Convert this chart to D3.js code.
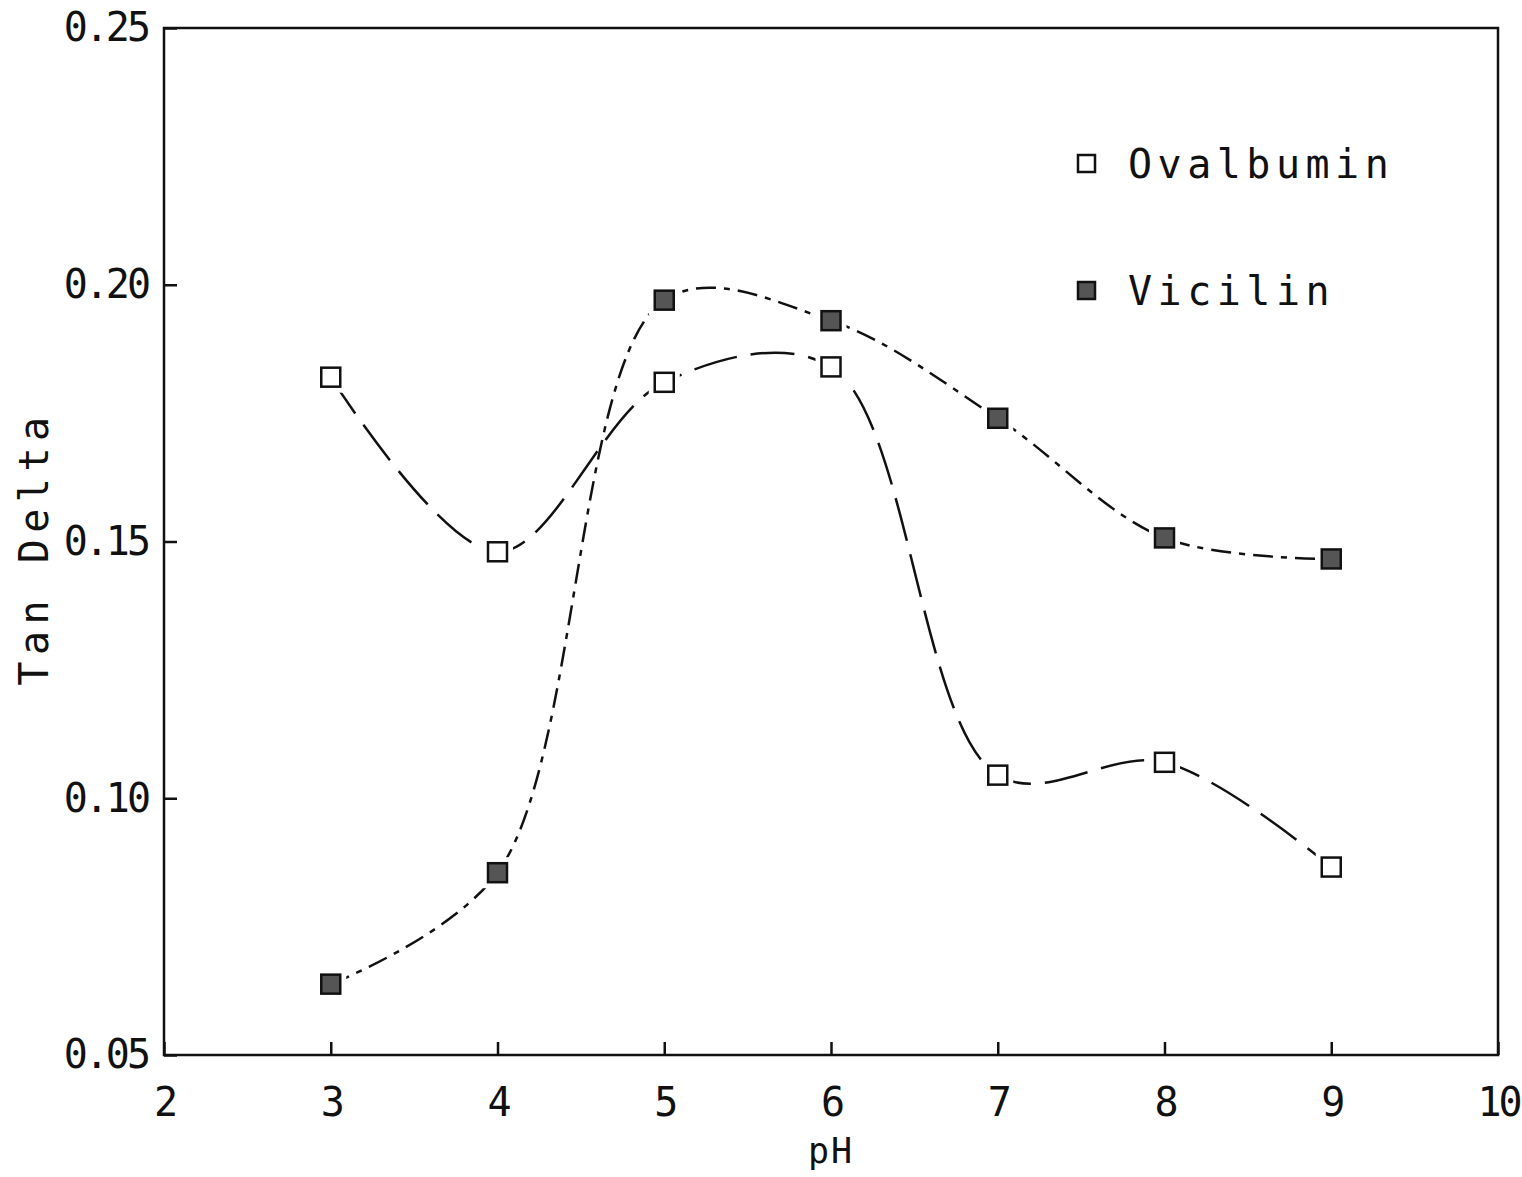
<!DOCTYPE html>
<html>
<head>
<meta charset="utf-8">
<script src="https://cdn.jsdelivr.net/npm/d3@7"></script>
<style>
  body { margin: 0; background: #fff; overflow: hidden; }
  svg { display: block; }
  text { font-family: "DejaVu Sans Mono", monospace; fill: #111; }
</style>
</head>
<body>
<div id="chart"></div>
<script>
var pH = [3, 4, 5, 6, 7, 8, 9];
var ovalbumin = [0.182, 0.148, 0.181, 0.184, 0.1045, 0.107, 0.0866];
var vicilin = [0.0638, 0.0855, 0.197, 0.193, 0.174, 0.1507, 0.1466];
var xTicks = [2, 3, 4, 5, 6, 7, 8, 9, 10];
var yTicks = [0.05, 0.10, 0.15, 0.20, 0.25];

var margin = { top: 28, right: 24, bottom: 122, left: 164 },
    width = 1522,
    height = 1177;
var innerWidth = width - margin.left - margin.right,
    innerHeight = height - margin.top - margin.bottom;

var svg = d3.select("#chart").append("svg")
    .attr("width", width)
    .attr("height", height);

var g = svg.append("g")
    .attr("transform", "translate(" + margin.left + "," + margin.top + ")");

var x = d3.scaleLinear().domain([2, 10]).range([0, innerWidth]);
var y = d3.scaleLinear().domain([0.05, 0.25]).range([innerHeight, 0]);

// frame
g.append("rect")
    .attr("width", innerWidth)
    .attr("height", innerHeight)
    .attr("fill", "none")
    .attr("stroke", "#111")
    .attr("stroke-width", 2.5);

// inward ticks
var xAxis = d3.axisBottom(x).tickValues(xTicks).tickSize(-13).tickPadding(33)
    .tickFormat(d3.format("d"));
var yAxis = d3.axisLeft(y).tickValues(yTicks).tickSize(-13).tickPadding(16)
    .tickFormat(d3.format(".2f"));

var gx = g.append("g").attr("transform", "translate(0," + innerHeight + ")").call(xAxis);
var gy = g.append("g").call(yAxis);
[gx, gy].forEach(function (a) {
    a.select(".domain").remove();
    a.selectAll("line").attr("stroke", "#111").attr("stroke-width", 2.5);
    a.selectAll("text")
        .style("font-family", "'DejaVu Sans Mono', monospace")
        .style("font-size", "40px")
        .style("letter-spacing", "-3px")
        .attr("fill", "#111");
});
gx.selectAll("text").attr("dy", "0.71em");

// axis titles
svg.append("text")
    .attr("x", 831).attr("y", 1163)
    .attr("text-anchor", "middle")
    .style("font-size", "35px")
    .style("letter-spacing", "2px")
    .text("pH");

svg.append("text")
    .attr("transform", "translate(48,548) rotate(-90)")
    .attr("text-anchor", "middle")
    .style("font-size", "40px")
    .style("letter-spacing", "6.5px")
    .text("Tan Delta");

var line = d3.line()
    .x(function (d, i) { return x(pH[i]); })
    .y(function (d) { return y(d); })
    .curve(d3.curveCatmullRom.alpha(0.5));

g.append("path")
    .datum(ovalbumin)
    .attr("d", line)
    .attr("fill", "none")
    .attr("stroke", "#111")
    .attr("stroke-width", 2.5)
    .attr("stroke-dasharray", "44,14");

g.append("path")
    .datum(vicilin)
    .attr("d", line)
    .attr("fill", "none")
    .attr("stroke", "#111")
    .attr("stroke-width", 2.5)
    .attr("stroke-dasharray", "20,8,6,8");

var s = 19;
function markers(data, fill) {
    // white halo so lines stop short of the markers
    g.selectAll(null)
        .data(data)
        .enter().append("rect")
        .attr("x", function (d, i) { return x(pH[i]) - s / 2; })
        .attr("y", function (d) { return y(d) - s / 2; })
        .attr("width", s)
        .attr("height", s)
        .attr("fill", "#fff")
        .attr("stroke", "#fff")
        .attr("stroke-width", 12);
    g.selectAll(null)
        .data(data)
        .enter().append("rect")
        .attr("x", function (d, i) { return x(pH[i]) - s / 2; })
        .attr("y", function (d) { return y(d) - s / 2; })
        .attr("width", s)
        .attr("height", s)
        .attr("fill", fill)
        .attr("stroke", "#111")
        .attr("stroke-width", 2.5);
}
markers(ovalbumin, "#fff");
markers(vicilin, "#555");

// legend
var legend = [
    { name: "Ovalbumin", fill: "#fff", y: 163 },
    { name: "Vicilin", fill: "#555", y: 290 }
];
legend.forEach(function (l) {
    svg.append("rect")
        .attr("x", 1078).attr("y", l.y - 8)
        .attr("width", 17).attr("height", 17)
        .attr("fill", l.fill)
        .attr("stroke", "#111")
        .attr("stroke-width", 2.5);
    svg.append("text")
        .attr("x", 1128).attr("y", l.y + 15)
        .style("font-size", "40px")
        .style("letter-spacing", "5.5px")
        .text(l.name);
});
</script>
</body>
</html>
